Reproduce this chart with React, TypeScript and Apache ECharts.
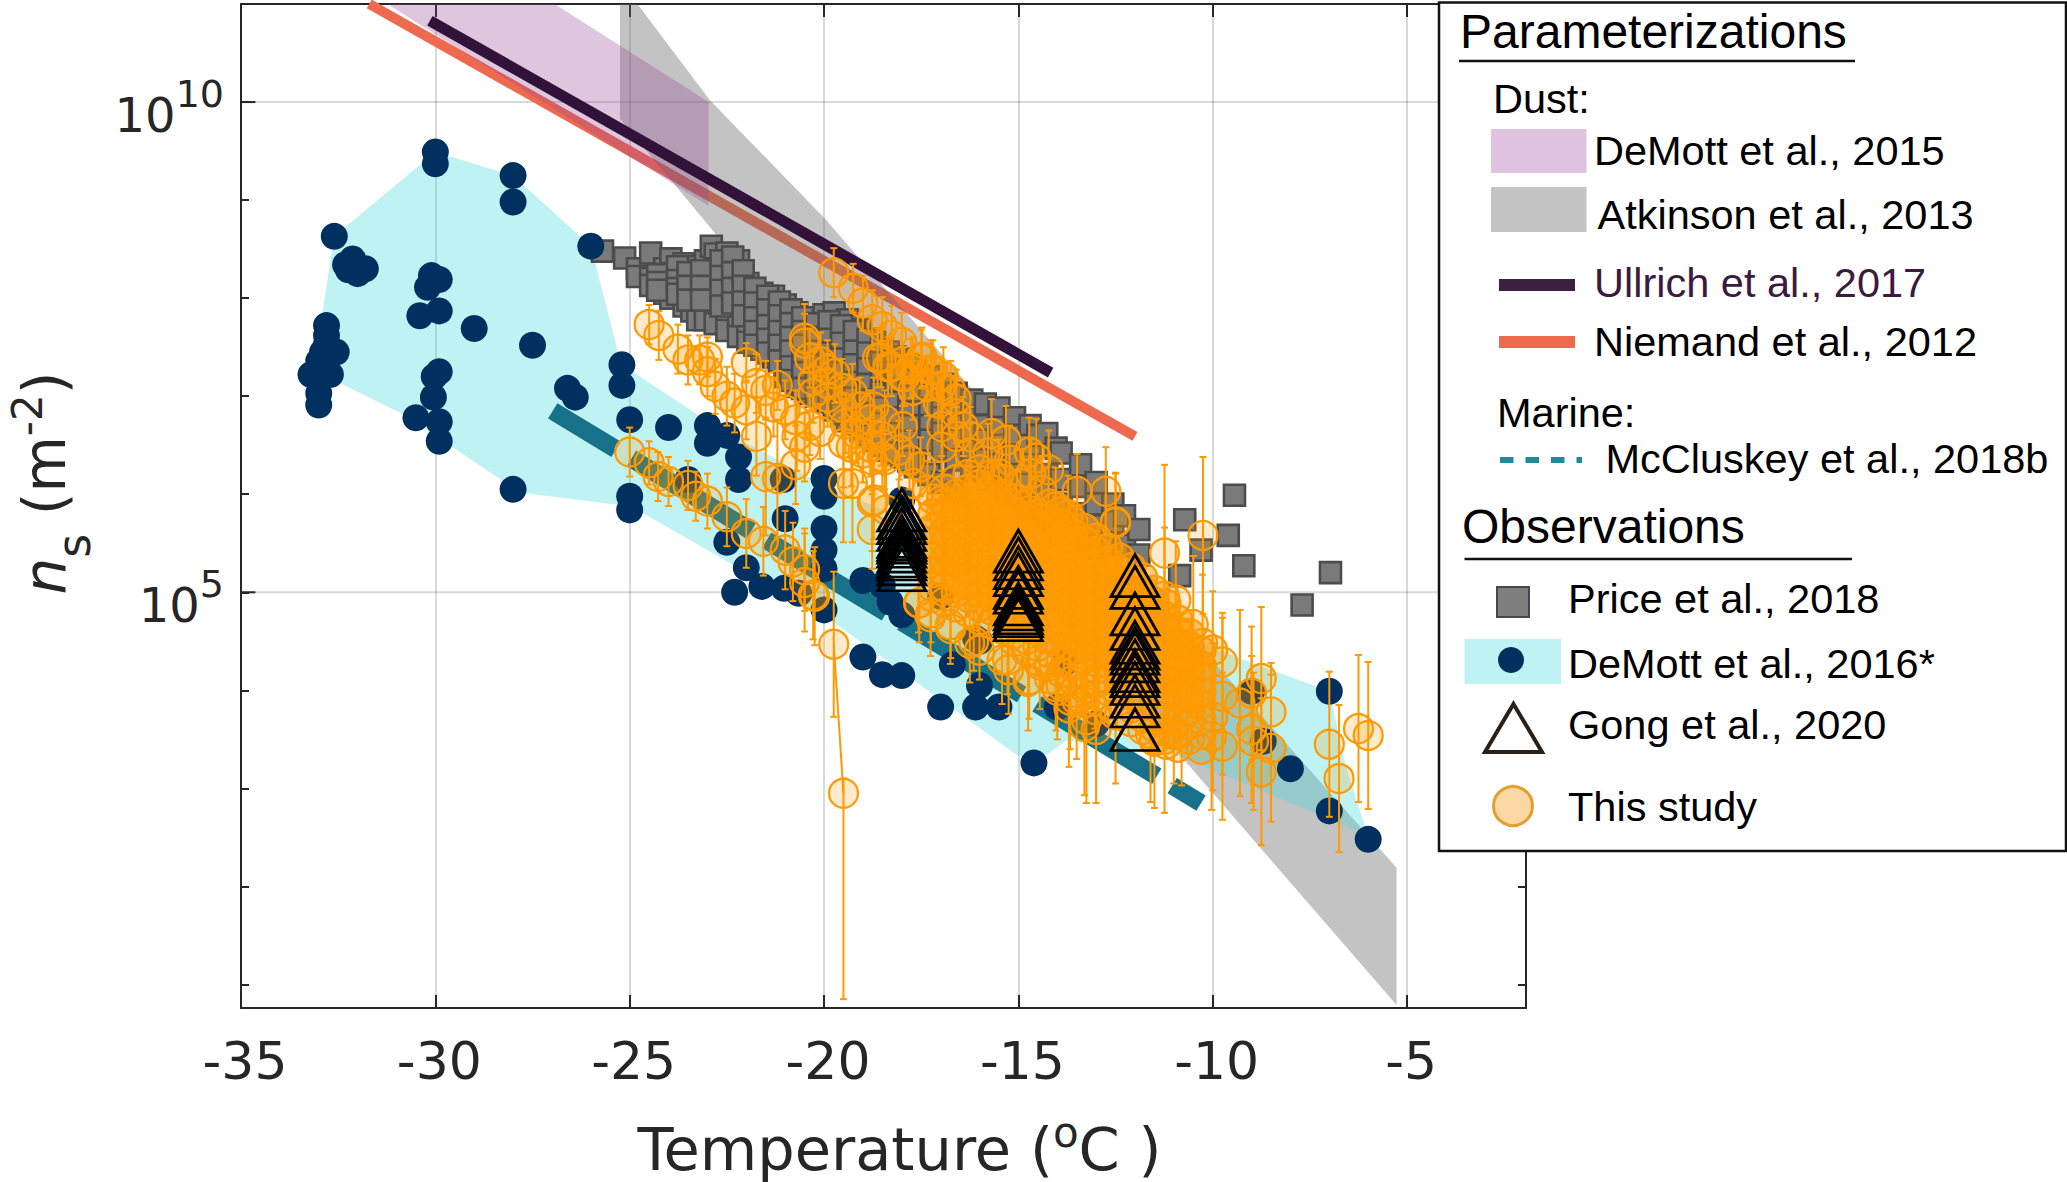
import React, { useEffect, useRef } from "react";
import * as echarts from "echarts";

const xTicksMin = -35;
const xTicksMax = -1.94;
const yDecadeMin = 0.76;
const yDecadeMax = 11;
const yLabelDecades = [5, 10];
const yTickDecades = [1, 2, 3, 4, 5, 6, 7, 8, 9, 10, 11];

const legendNames = {
  demott2015: "DeMott et al., 2015",
  atkinson: "Atkinson et al., 2013",
  ullrich: "Ullrich et al., 2017",
  niemand: "Niemand et al., 2012",
  mccluskey: "McCluskey et al., 2018b",
  price: "Price et al., 2018",
  demott2016: "DeMott et al., 2016*",
  gong: "Gong et al., 2020",
  study: "This study",
};

const niemandLine = [[-31.7, 11], [-12.0, 6.59]];
const ullrichLine = [[-30.14, 10.83], [-14.17, 7.24]];
const mccluskeyLine = [[-26.98, 6.85], [-10.3, 2.85]];

const demott2015Band = [[-31.24, 11], [-26.93, 11], [-22.97, 10], [-22.97, 8.94]];
const atkinsonBand = [
  [-25.25, 9.83], [-21.9, 8.23], [-10.8, 3.32], [-5.27, 0.79], [-5.27, 2.19],
  [-15.8, 6.89], [-19.95, 8.8], [-22.94, 10.02], [-24.8, 11], [-25.25, 11],
];
const demott2016Band = [
  [-30, 9.49], [-28, 9.25], [-26, 8.53], [-25.3, 7.45], [-25.2, 7.32], [-22.9, 6.72],
  [-20, 6.09], [-9.4, 4.34], [-7, 3.99], [-6.6, 3.26], [-6.07, 2.59], [-6.07, 2.53],
  [-10.8, 3.32], [-13.76, 3.49], [-14.28, 3.34], [-15, 3.33], [-19.7, 4.68], [-24.8, 5.84],
  [-25.25, 5.89], [-27.67, 6.01], [-28.2, 6.12], [-30.8, 6.81], [-32.7, 7.18], [-32.9, 7.87],
  [-32.6, 8.63], [-32.3, 8.73],
];

const demott2016Points = [
  [-30, 9.49], [-30, 9.37], [-28, 9.25], [-28, 8.98], [-32.6, 8.63], [-32.31, 8.34], [-32.13, 8.4],
  [-32, 8.25], [-31.8, 8.3], [-32.24, 8.29], [-30.1, 8.23], [-29.9, 8.19], [-30.2, 8.11], [-30.4, 7.82],
  [-29.9, 7.87], [-29, 7.69], [-27.5, 7.52], [-26, 8.53], [-26.6, 7.08], [-26.4, 6.99], [-25.2, 7.32],
  [-25.2, 7.11], [-25, 6.76], [-24, 6.68], [-23, 6.7], [-23, 6.52], [-22.5, 6.6], [-22.2, 6.38], [-22.2, 6.15],
  [-23.5, 6.15], [-25, 5.98], [-25, 5.84], [-28, 6.05], [-32.8, 7.72], [-32.8, 7.62], [-32.8, 7.53],
  [-32.9, 7.45], [-32.55, 7.45], [-33, 7.36], [-32.8, 7.29], [-33.2, 7.22], [-32.7, 7.22], [-33, 7.03], [-33, 6.91],
  [-29.9, 7.25], [-30.03, 7.2], [-30.05, 6.99], [-30.5, 6.78], [-29.9, 6.74], [-29.9, 6.54], [-21.05, 6.15],
  [-20, 6.16], [-20, 5.98], [-21, 5.75], [-20, 5.65], [-20, 5.43], [-20, 5.24], [-22.5, 5.51], [-22, 5.25],
  [-22.3, 5], [-21.6, 5.06], [-21.03, 5.04], [-20.65, 4.99], [-20, 4.82], [-19, 5.12], [-18.5, 5.07], [-18.3, 4.9],
  [-18, 4.77], [-18, 5.94], [-17, 4.96], [-19, 4.34], [-18.5, 4.16], [-18, 4.15], [-16.7, 4.26], [-16, 4.05],
  [-17, 3.83], [-16.1, 3.83], [-15.5, 3.83], [-14.6, 3.26], [-7, 3.99], [-7, 2.77], [-8, 3.2], [-6, 2.48],
  [-9, 3.99], [-8.7, 3.48], [-13.8, 4.28], [-14, 3.83], [-13, 3.66], [-16.1, 4.53], [-16, 4.5],
];

// Each row: temperature, then the log10(ns) of the Price squares in that column.
const priceRows = [
  [-25.7, 8.48], [-25.13, 8.41], [-24.8, 8.3, 8.22], [-24.46, 8.46, 8.2, 8.13], [-24.1, 8.3, 8.15, 8.05],
  [-23.94, 8.4, 8.25, 8], [-23.6, 8.35, 8.2, 8.05, 7.92], [-23.4, 8.32, 8.15, 8, 7.87], [-23.25, 7.78],
  [-23.05, 8.38, 8.2, 8.05, 7.89, 7.78], [-22.9, 8.53], [-22.8, 8.45, 8.3, 8.15, 7.98, 7.74],
  [-22.5, 8.46, 8.3, 8.15, 8, 7.85, 7.67], [-22.2, 8.38, 8.2, 8.05, 7.92, 7.78, 7.61],
  [-21.96, 8.15, 8, 7.85, 7.7, 7.55], [-21.6, 8.05, 7.92, 7.78, 7.62, 7.48], [-21.3, 8.02, 7.85, 7.7, 7.55, 7.4],
  [-21, 7.93, 7.8, 7.65, 7.5, 7.32, 7.2], [-20.7, 7.85, 7.7, 7.58, 7.42, 7.28, 7.1],
  [-20.4, 7.78, 7.62, 7.5, 7.35, 7.2, 7.03], [-20, 7.83, 7.7, 7.55, 7.42, 7.26, 7.1, 6.95],
  [-19.74, 7.85, 7.65, 7.5, 7.35, 7.2, 7.02, 6.86], [-19.4, 7.78, 7.6, 7.42, 7.28, 7.1, 6.95, 6.75],
  [-19.05, 7.68, 7.5, 7.35, 7.18, 7, 6.85, 6.65], [-18.7, 7.55, 7.4, 7.25, 7.1, 6.92, 6.78, 6.55],
  [-18.35, 7.45, 7.3, 7.15, 7, 6.85, 6.68, 6.45], [-18, 7.38, 7.2, 7.05, 6.9, 6.75, 6.58, 6.38],
  [-17.65, 7.28, 7.12, 6.95, 6.8, 6.65, 6.5, 6.28], [-17.3, 7.2, 7.02, 6.88, 6.7, 6.55, 6.2],
  [-16.95, 7.12, 6.95, 6.78, 6.62, 6.45, 6.12], [-16.6, 7.03, 6.85, 6.7, 6.55, 6.35, 6.02],
  [-16.2, 6.96, 6.78, 6.62, 6.45, 6.25], [-15.85, 6.92, 6.7, 6.55, 6.35, 6.15], [-15.5, 6.88, 6.68, 6.5, 6.3, 6.05],
  [-15.1, 6.78, 6.6, 6.4, 6.2, 5.98], [-14.7, 6.7, 6.5, 6.3, 6.1, 5.85], [-14.5, 6.6], [-14.27, 6.62, 6.2, 6, 5.75],
  [-14.03, 6.47], [-13.9, 6.42, 6.15, 5.9, 5.65], [-13.4, 6.3, 6.08, 5.8, 5.55], [-13, 6.12, 5.9, 5.68, 5.45],
  [-12.57, 5.9, 5.72, 5.5], [-12.27, 5.78, 5.48], [-11.9, 5.64, 5.38], [-10.72, 5.74], [-10.3, 5.43],
  [-10.85, 5.17], [-9.6, 5.58], [-9.44, 5.99], [-9.2, 5.27], [-6.97, 5.2], [-7.7, 4.87],
  // the tightly packed middle of the streak
  [-24.28, 8.24, 8.16, 8.08], [-23.77, 8.32, 8.18, 8.1, 8.04], [-23.5, 8.26, 8.12, 7.98], [-23.15, 8.28, 8.12, 7.98],
  [-22.65, 8.38, 8.22, 8.08, 7.92], [-22.35, 8.42, 8.26, 8.1, 7.95], [-22.08, 8.28, 8.12, 7.96, 7.82],
  [-21.78, 8.1, 7.95, 7.8, 7.66, 7.52], [-21.45, 8.02, 7.88, 7.72, 7.58, 7.44], [-21.15, 7.96, 7.82, 7.66, 7.52, 7.36],
  [-20.85, 7.88, 7.74, 7.6, 7.46, 7.3, 7.16], [-20.55, 7.8, 7.66, 7.52, 7.38, 7.24, 7.08],
  [-20.2, 7.74, 7.6, 7.46, 7.32, 7.16, 7], [-19.87, 7.76, 7.58, 7.44, 7.3, 7.14, 6.94],
  [-19.55, 7.72, 7.54, 7.38, 7.24, 7.06, 6.82], [-19.22, 7.66, 7.46, 7.32, 7.14, 6.98, 6.72],
  [-18.87, 7.58, 7.44, 7.28, 7.12, 6.96, 6.82, 6.6], [-18.52, 7.48, 7.34, 7.18, 7.04, 6.88, 6.72, 6.5],
  [-18.17, 7.4, 7.24, 7.08, 6.94, 6.78, 6.62, 6.42], [-17.82, 7.32, 7.16, 7, 6.84, 6.7, 6.54, 6.34],
];

// Gong triangles: the three temperatures and the log10(ns) stack at each.
const gongColumns = [
  [-18, 5.84, 5.76, 5.71, 5.64, 5.57, 5.54, 5.51, 5.47, 5.42, 5.37, 5.34, 5.29, 5.23],
  [-15, 5.42, 5.34, 5.25, 5.18, 5.05, 5, 4.88, 4.83, 4.79, 4.76, 4.72],
  [-12, 5.17, 5.05, 4.78, 4.63, 4.49, 4.43, 4.38, 4.3, 4.2, 4.15, 4.07, 3.94, 3.84, 3.6],
];

// This study, single readable points: temperature, log10(ns), error half-width in decades.
const studyPoints = [
  [-25, 6.43, 0.25], [-24.5, 6.32, 0.22], [-24.27, 6.18, 0.25], [-24, 6.13, 0.25], [-23.5, 6.09, 0.25],
  [-23.3, 5.98, 0.25], [-23, 5.93, 0.28], [-22.5, 5.77, 0.3], [-22, 5.6, 0.35], [-21.56, 5.52, 0.35],
  [-21, 5.43, 0.4], [-20.8, 5.31, 0.4], [-20.5, 5.23, 0.42], [-20.28, 4.97, 0.45],
  [-24.5, 7.73, 0.2], [-24.25, 7.62, 0.25], [-23.76, 7.48, 0.25], [-23.5, 7.37, 0.25], [-23.2, 7.37, 0.25],
  [-23, 7.4, 0.2], [-23, 7.25, 0.25], [-22.8, 7.1, 0.28], [-22.5, 7, 0.3], [-22.3, 6.93, 0.3], [-22, 6.86, 0.3],
  [-22, 7.34, 0.2], [-21.74, 7.13, 0.3], [-21.5, 7.06, 0.3], [-21.2, 7.11, 0.25], [-21.3, 6.89, 0.3],
  [-21.74, 6.59, 0.4], [-21, 6.86, 0.3], [-20.73, 6.76, 0.3], [-20.37, 6.7, 0.3], [-20.1, 6.64, 0.28],
  [-20.7, 6.59, 0.35], [-20.5, 6.48, 0.35], [-20.73, 6.3, 0.4], [-21.5, 6.18, 0.6], [-21.2, 6.16, 0.6],
  [-19.5, 6.52, 0.45], [-19.3, 6.48, 0.4], [-19.5, 6.11, 0.6], [-19.27, 6.11, 0.6], [-19, 6.42, 0.3],
  [-18.76, 6.35, 0.35], [-18.5, 6.38, 0.3], [-18.76, 5.92, 0.5], [-18.4, 5.84, 0.45], [-18.76, 5.64, 0.4],
  [-18.72, 5.94, 0.4], [-19.75, 8.26, 0.25], [-19.25, 8.1, 0.25], [-19, 7.95, 0.28], [-18.76, 7.78, 0.3],
  [-18.5, 7.71, 0.3], [-18.26, 7.62, 0.3], [-18, 7.55, 0.3], [-18.53, 7.39, 0.3], [-18.26, 7.3, 0.3],
  [-17.93, 7.2, 0.3], [-17.5, 7.38, 0.3], [-17.25, 7.27, 0.3], [-17.77, 7.28, 0.3], [-17, 7.1, 0.3], [-16.6, 6.97, 0.3],
  [-20.5, 7.59, 0.35], [-20.5, 7.54, 0.3], [-20.37, 7.39, 0.3], [-20.09, 7.35, 0.3], [-19.91, 7.27, 0.3],
  [-19.72, 7.23, 0.3], [-20.28, 7.16, 0.3], [-19.91, 7.13, 0.3], [-19.54, 7.08, 0.3], [-19.27, 7.03, 0.3],
  [-20.28, 7.03, 0.3], [-19.91, 6.99, 0.3], [-19.54, 6.89, 0.3], [-19.08, 6.89, 0.3], [-18.72, 6.89, 0.3],
  [-18.81, 6.76, 0.3], [-18.44, 6.76, 0.3], [-17.98, 6.69, 0.3], [-19.45, 6.72, 0.3], [-19.17, 6.62, 0.3],
  [-18.53, 6.59, 0.3], [-18.07, 6.45, 0.3], [-17.8, 6.35, 0.3], [-17.52, 6.28, 0.3], [-18.81, 6.48, 0.3],
  [-18.44, 6.35, 0.3], [-17.71, 6.11, 0.3], [-17.34, 6.04, 0.3], [-16.97, 5.94, 0.3],
  [-18.62, 7.39, 0.3], [-18.35, 7.3, 0.3], [-17.98, 7.2, 0.3], [-17.71, 7.3, 0.3], [-17.48, 7.4, 0.3],
  [-17.2, 7.27, 0.3], [-16.93, 7.2, 0.3], [-16.74, 7.06, 0.3], [-17.34, 7.1, 0.3], [-17.71, 7.06, 0.3],
  [-17.06, 6.93, 0.3], [-16.6, 6.82, 0.3], [-16.97, 6.69, 0.3], [-16.42, 6.69, 0.3], [-16.24, 6.59, 0.3],
  [-15.69, 6.62, 0.35], [-15.32, 6.55, 0.35], [-14.72, 6.43, 0.35], [-14.54, 6.37, 0.4], [-14.22, 6.25, 0.4],
  [-15.23, 6.35, 0.35], [-15.5, 6.21, 0.35], [-14.95, 6.11, 0.35], [-14.68, 6.21, 0.35], [-14.4, 6.04, 0.35],
  [-13.72, 5.79, 0.4], [-13.49, 6.03, 0.38], [-12.75, 6.03, 0.45], [-12.5, 5.71, 0.5], [-14.04, 5.87, 0.4],
  [-15.78, 6.42, 0.3], [-16.24, 6.42, 0.3], [-16.6, 6.59, 0.3], [-16.97, 6.48, 0.3],
  [-17.57, 4.89, 0.3], [-17.25, 4.79, 0.3], [-16.74, 4.63, 0.3], [-16.15, 4.5, 0.3], [-16, 4.41, 0.3],
  [-15.28, 4.31, 0.35], [-14.72, 4.11, 0.4], [-14.04, 4.04, 0.45], [-13.67, 3.9, 0.5], [-13.03, 4.11, 0.5],
  [-17.55, 4.89, 0.4], [-17.26, 4.75, 0.4], [-16.75, 4.67, 0.4], [-16.25, 4.48, 0.4], [-15.42, 4.31, 0.45],
  [-15.25, 4.21, 0.45], [-14.75, 4.09, 0.5], [-14.45, 4.26, 0.45], [-14, 4, 0.5], [-13.7, 3.82, 0.6],
  [-13.3, 3.63, 0.7], [-13, 3.6, 0.75], [-13.5, 3.9, 0.6], [-13.25, 3.7, 0.85], [-12.5, 3.75, 0.7],
  [-11.6, 3.56, 0.7], [-11.5, 3.5, 0.7], [-11.24, 3.5, 0.75], [-11, 3.55, 0.5], [-10.8, 3.73, 0.7],
  [-12.5, 5.72, 0.5], [-11.24, 5.4, 0.9], [-10.25, 5.58, 0.8], [-11.24, 4.96, 0.7], [-10.95, 4.92, 0.6],
  [-10.5, 4.67, 0.7], [-10.26, 4.48, 0.7], [-10, 4.41, 0.6], [-9.75, 4.29, 0.5], [-9.3, 3.87, 0.95],
  [-9.75, 3.94, 0.8], [-8.75, 4.12, 0.73], [-8.5, 3.78, 0.5], [-9, 3.97, 0.68], [-10, 3.73, 0.75],
  [-10.03, 3.53, 0.75], [-9.75, 3.43, 0.75], [-9, 3.6, 0.75], [-8.95, 3.48, 0.7], [-8.5, 3.41, 0.75],
  [-8.75, 3.17, 0.75], [-7, 3.45, 0.74], [-6.75, 3.1, 0.75], [-6.25, 3.61, 0.75], [-6, 3.54, 0.75],
  [-20.24, 4.96, 0.5], [-20.5, 5.1, 0.5], [-19.75, 4.47, 0.74],
];

// The one low point with its long lower whisker: temperature, log10(ns), low, high.
const studyLowPoint = [-19.5, 2.95, 0.85, 3.1];
const studyLowLink = [[-19.75, 4.47], [-19.5, 2.95]];

// This study, overlapping rings round the core: temperature then log10(ns).
const studyRimRows = [
  [-17.2, 5.95, 5.05, 4.95], [-16.9, 6.05, 5.05, 4.9], [-16.6, 6.15, 4.85], [-16.3, 6.2, 4.8],
  [-16, 6.25, 4.72], [-15.7, 6.2, 4.68], [-15.4, 6.15, 4.62], [-15.1, 4.58, 4.5], [-14.8, 4.52, 4.4],
  [-14.5, 4.45, 4.3], [-14.2, 4.38, 4.25, 4.12], [-13.9, 4.3, 4.18, 4.05], [-13.6, 4.25, 4.1, 3.98],
  [-13.3, 4.18, 4.02, 3.88], [-13, 4.22, 4.08, 3.95, 3.8], [-12.7, 4.12, 4, 3.85], [-12.4, 4.05, 3.9, 3.75],
  [-12.1, 3.95, 3.82, 3.68], [-11.8, 3.98, 3.85, 3.72, 3.6], [-11.5, 3.88, 3.75, 3.62, 3.48],
  [-11.2, 3.85, 3.72, 3.58, 3.45], [-10.9, 3.82, 3.68, 3.55, 3.42], [-10.6, 3.8, 3.65, 3.5], [-10.3, 3.7, 3.55, 3.4],
];

// This study, the saturated core: temperature then log10(ns) of overlapping points.
const studyCoreRows = [
  [-17.2, 5.8, 5.65, 5.5, 5.35, 5.2],
  [-16.9, 5.9, 5.78, 5.62, 5.5, 5.33, 5.2],
  [-16.6, 6, 5.85, 5.72, 5.58, 5.42, 5.3, 5.15, 5],
  [-16.3, 6.05, 5.92, 5.78, 5.62, 5.5, 5.35, 5.22, 5.08, 4.95],
  [-16, 6.1, 5.95, 5.82, 5.68, 5.55, 5.4, 5.28, 5.12, 5, 4.85],
  [-15.7, 6.05, 5.9, 5.78, 5.62, 5.5, 5.35, 5.2, 5.08, 4.95, 4.82],
  [-15.4, 6, 5.88, 5.72, 5.6, 5.45, 5.32, 5.18, 5.05, 4.9, 4.78],
  [-15.1, 5.95, 5.82, 5.68, 5.55, 5.42, 5.28, 5.15, 5, 4.88, 4.72],
  [-14.8, 5.9, 5.75, 5.6, 5.48, 5.35, 5.2, 5.08, 4.95, 4.8, 4.68],
  [-14.5, 5.8, 5.68, 5.55, 5.42, 5.28, 5.15, 5, 4.88, 4.75, 4.6],
  [-14.2, 5.9, 5.75, 5.6, 5.48, 5.35, 5.2, 5.08, 4.95, 4.8, 4.68, 4.52],
  [-13.9, 5.82, 5.7, 5.55, 5.42, 5.28, 5.15, 5, 4.88, 4.72, 4.6, 4.45],
  [-13.6, 5.72, 5.6, 5.48, 5.35, 5.2, 5.08, 4.92, 4.8, 4.68, 4.52, 4.4],
  [-13.3, 5.65, 5.52, 5.4, 5.25, 5.12, 5, 4.85, 4.72, 4.6, 4.45, 4.32],
  [-13, 5.55, 5.42, 5.3, 5.15, 5.02, 4.9, 4.75, 4.62, 4.5, 4.35],
  [-12.7, 5.45, 5.32, 5.2, 5.05, 4.92, 4.8, 4.68, 4.52, 4.4, 4.28],
  [-12.4, 5.35, 5.22, 5.1, 4.98, 4.82, 4.7, 4.58, 4.45, 4.3, 4.18],
  [-12.1, 5.25, 5.12, 5, 4.88, 4.75, 4.6, 4.48, 4.35, 4.22, 4.08],
  [-11.8, 5.15, 5.02, 4.9, 4.75, 4.62, 4.5, 4.38, 4.25, 4.12],
  [-11.5, 5.02, 4.9, 4.78, 4.65, 4.52, 4.4, 4.28, 4.15, 4],
  [-11.2, 4.88, 4.75, 4.62, 4.5, 4.38, 4.25, 4.1, 3.98],
  [-10.9, 4.72, 4.6, 4.48, 4.35, 4.22, 4.08, 3.95],
  [-10.6, 4.58, 4.45, 4.32, 4.2, 4.05, 3.92],
  [-10.3, 4.4, 4.25, 4.12, 3.98, 3.85],
];

const pt = (p: number[]) => [p[0], Math.pow(10, p[1])];
const pts = (a: number[][]) => a.map(pt);
const fromRows = (rows: number[][]) =>
  rows.flatMap((r) => r.slice(1).map((e) => [r[0], Math.pow(10, e)]));

const band = (data: number[][], fill: string, z: number) => ({
  type: "custom",
  z,
  silent: true,
  clip: true,
  encode: { x: 0, y: 1 },
  data: pts(data),
  renderItem: (params: any, api: any) => {
    if (params.dataIndex !== 0) return null;
    return {
      type: "polygon",
      shape: { points: pts(data).map((d) => api.coord(d)) },
      style: { fill },
    };
  },
});

const errorBars = (rows: number[][], z: number) => ({
  type: "custom",
  z,
  silent: true,
  clip: true,
  encode: { x: 0, y: 1 },
  data: rows,
  renderItem: (_: any, api: any) => {
    const t = api.value(0);
    const a = api.coord([t, api.value(2)]);
    const b = api.coord([t, api.value(3)]);
    const stroke = { stroke: "#ff9900", lineWidth: 2 };
    return {
      type: "group",
      children: [
        { type: "line", shape: { x1: a[0], y1: a[1], x2: b[0], y2: b[1] }, style: stroke },
        { type: "line", shape: { x1: a[0] - 3.5, y1: a[1], x2: a[0] + 3.5, y2: a[1] }, style: stroke },
        { type: "line", shape: { x1: b[0] - 3.5, y1: b[1], x2: b[0] + 3.5, y2: b[1] }, style: stroke },
      ],
    };
  },
});

const legendFont = "'Liberation Sans', Arial, sans-serif";
const axisFont = "'DejaVu Sans', sans-serif";
const L = 200;
const txt = (text: string, x: number, y: number, size = 41.5, fill = "#000") => ({
  type: "text",
  z: L + 1,
  style: { text, x, y: y - 0.85 * size + 0.5, fontSize: size, fontFamily: legendFont, fill, verticalAlign: "top" },
});
const rect = (x: number, y: number, width: number, height: number, fill: string, stroke?: string, lineWidth = 0) => ({
  type: "rect",
  z: L + 1,
  shape: { x, y, width, height },
  style: { fill, stroke, lineWidth },
});
const seg = (x1: number, y1: number, x2: number, y2: number, stroke: string, lineWidth: number, lineDash?: number[]) => ({
  type: "line",
  z: L + 1,
  shape: { x1, y1, x2, y2 },
  style: { stroke, lineWidth, lineDash },
});

const legendGraphics = [
  { ...rect(1439, 2.5, 627, 848.5, "#fff", "#111", 2.5), z: L },
  txt("Parameterizations", 1460, 48, 48),
  seg(1459, 61, 1855, 61, "#111", 2.5),
  txt("Dust:", 1493, 112),
  rect(1491, 129, 95.5, 44, "#dfc3e0"),
  txt(legendNames.demott2015, 1594, 164),
  rect(1491, 187, 95.5, 45, "#c4c4c4"),
  txt(legendNames.atkinson, 1597.5, 228),
  seg(1499, 285, 1575, 285, "#3c2040", 12),
  txt(legendNames.ullrich, 1594, 296, 41.5, "#3a1a3f"),
  seg(1499, 342, 1575, 342, "#ee6a4f", 12),
  txt(legendNames.niemand, 1594, 355),
  txt("Marine:", 1497, 426),
  seg(1500, 460, 1582, 460, "#1f8a9e", 6, [13.5, 12]),
  txt(legendNames.mccluskey, 1605.5, 472),
  txt("Observations", 1462, 543, 48),
  seg(1464.5, 559, 1852, 559, "#111", 2.5),
  rect(1497, 587, 32, 30, "#7f7f7f", "#3f4a50", 2),
  txt(legendNames.price, 1568, 612),
  rect(1464.5, 639, 96.5, 45, "#bff3f3"),
  { type: "circle", z: L + 2, shape: { cx: 1511, cy: 660, r: 13 }, style: { fill: "#00305f" } },
  txt(legendNames.demott2016, 1568, 677),
  {
    type: "polygon",
    z: L + 1,
    shape: { points: [[1513.5, 704], [1542, 752], [1485, 752]] },
    style: { fill: "#fff", stroke: "#2a2018", lineWidth: 4 },
  },
  txt(legendNames.gong, 1568, 738),
  { type: "circle", z: L + 1, shape: { cx: 1513, cy: 806, r: 19.5 }, style: { fill: "#fdd8a5", stroke: "#e3a030", lineWidth: 3 } },
  txt(legendNames.study, 1568, 820),
];

const axisColor = "#262626";
const xTickLen = 13;
const yMinorLen = 8;
const yTickValues = yTickDecades.map((d) => Math.pow(10, d));
const yLabelValues = yLabelDecades.map((d) => Math.pow(10, d));

const option: any = {
  animation: false,
  backgroundColor: "#fff",
  grid: { left: 241, right: 541, top: 4, bottom: 174, containLabel: false, outerBoundsMode: "none" },
  xAxis: [
    {
      type: "value",
      min: xTicksMin,
      max: xTicksMax,
      interval: 5,
      position: "bottom",
      axisLine: { show: true, lineStyle: { color: axisColor, width: 2 } },
      axisTick: { show: true, inside: true, length: xTickLen, lineStyle: { color: axisColor, width: 2 } },
      axisLabel: {
        show: true,
        margin: 27,
        fontSize: 52,
        fontFamily: axisFont,
        color: "#262626",
        padding: [0, 0, 0, 8],
        showMaxLabel: false,
      },
      splitLine: { show: true, lineStyle: { color: "rgba(0,0,0,0.15)", width: 2 } },
      name: "Temperature ({sup|o}C )",
      nameLocation: "middle",
      nameGap: 103,
      nameTextStyle: {
        fontSize: 59,
        fontFamily: axisFont,
        color: "#262626",
        padding: [0, 0, 0, 32],
        rich: { sup: { fontSize: 42, fontFamily: axisFont, color: "#262626", padding: [0, 0, 34, 0] } },
      },
    },
    {
      type: "value",
      min: xTicksMin,
      max: xTicksMax,
      interval: 5,
      position: "top",
      axisLine: { show: true, lineStyle: { color: axisColor, width: 2 } },
      axisTick: { show: true, inside: true, length: xTickLen, lineStyle: { color: axisColor, width: 2 } },
      axisLabel: { show: false },
      splitLine: { show: false },
    },
  ],
  yAxis: [
    {
      type: "log",
      logBase: 10,
      min: Math.pow(10, yDecadeMin),
      max: Math.pow(10, yDecadeMax),
      position: "left",
      axisLine: { show: true, lineStyle: { color: axisColor, width: 2 } },
      axisTick: { show: true, inside: true, length: yMinorLen, customValues: yTickValues, lineStyle: { color: axisColor, width: 2 } },
      axisLabel: {
        show: true,
        margin: 17,
        fontSize: 48,
        fontFamily: axisFont,
        color: "#262626",
        padding: [25, 0, 0, 0],
        customValues: yLabelValues,
        formatter: (v: number) => `10{sup|${Math.round(Math.log10(v))}}`,
        rich: { sup: { fontSize: 38, fontFamily: axisFont, color: "#262626", padding: [0, 0, 41, 0] } },
      },
      splitLine: { show: false },
      name: "{i|n}{sub|s}{t| (m}{sup|-2}{t|)}",
      nameLocation: "middle",
      nameGap: 144,
      nameRotate: 90,
      nameTextStyle: {
        padding: [0, 0, 0, 46],
        rich: {
          i: { fontSize: 58, fontStyle: "italic", fontFamily: axisFont, color: "#262626" },
          sub: { fontSize: 46, fontFamily: axisFont, color: "#262626", padding: [58, 0, 0, 0] },
          t: { fontSize: 58, fontFamily: axisFont, color: "#262626" },
          sup: { fontSize: 42, fontFamily: axisFont, color: "#262626", padding: [0, 0, 36, 0] },
        },
      },
    },
    {
      type: "log",
      logBase: 10,
      min: Math.pow(10, yDecadeMin),
      max: Math.pow(10, yDecadeMax),
      position: "right",
      axisLine: { show: true, lineStyle: { color: axisColor, width: 2 } },
      axisTick: { show: true, inside: true, length: yMinorLen, customValues: yTickValues, lineStyle: { color: axisColor, width: 2 } },
      axisLabel: { show: false },
      splitLine: { show: false },
    },
  ],
  graphic: legendGraphics,
  series: [
    ...yLabelDecades.map((d) => ({
      type: "line",
      z: 0,
      silent: true,
      symbol: "none",
      lineStyle: { color: "rgba(0,0,0,0.15)", width: 2 },
      data: [[xTicksMin, Math.pow(10, d)], [xTicksMax, Math.pow(10, d)]],
    })),
    ...yLabelDecades.map((d) => ({
      type: "line",
      z: 20,
      silent: true,
      symbol: "none",
      lineStyle: { color: axisColor, width: 2 },
      data: [[xTicksMin, Math.pow(10, d)], [xTicksMin + 0.37, Math.pow(10, d)]],
    })),
    {
      name: legendNames.niemand,
      type: "line",
      z: 1,
      silent: true,
      symbol: "none",
      lineStyle: { color: "#ee6a4f", width: 10 },
      data: pts(niemandLine),
    },
    { name: legendNames.atkinson, ...band(atkinsonBand, "rgba(100,100,100,0.39)", 2) },
    { name: legendNames.demott2015, ...band(demott2015Band, "rgba(150,65,150,0.3)", 3) },
    {
      name: legendNames.ullrich,
      type: "line",
      z: 3,
      silent: true,
      symbol: "none",
      lineStyle: { color: "#33123a", width: 11, cap: "butt" },
      data: pts(ullrichLine),
    },
    { name: legendNames.demott2016, ...band(demott2016Band, "rgba(60,215,215,0.33)", 4) },
    {
      name: legendNames.mccluskey,
      type: "line",
      z: 5,
      silent: true,
      symbol: "none",
      lineStyle: { color: "#177289", width: 18, type: [140, 18], dashOffset: 66, cap: "butt" },
      data: pts(mccluskeyLine),
    },
    {
      name: legendNames.price,
      type: "scatter",
      z: 6,
      silent: true,
      symbol: "rect",
      symbolSize: 21,
      itemStyle: { color: "#7a7a7a", borderColor: "#4c4c4c", borderWidth: 2.6, opacity: 1 },
      data: fromRows(priceRows),
    },
    {
      name: legendNames.demott2016,
      type: "scatter",
      z: 7,
      silent: true,
      symbol: "circle",
      symbolSize: 27,
      itemStyle: { color: "#00305f", opacity: 1 },
      data: pts(demott2016Points),
    },
    {
      name: legendNames.study,
      ...errorBars(
        [
          ...studyPoints.map((p) => [p[0], Math.pow(10, p[1]), Math.pow(10, p[1] - p[2]), Math.pow(10, p[1] + p[2])]),
          [studyLowPoint[0], Math.pow(10, studyLowPoint[1]), Math.pow(10, studyLowPoint[2]), Math.pow(10, studyLowPoint[3])],
        ],
        8
      ),
    },
    {
      type: "line",
      z: 8,
      silent: true,
      symbol: "none",
      lineStyle: { color: "#ff9900", width: 2 },
      data: pts(studyLowLink),
    },
    {
      name: legendNames.study,
      type: "scatter",
      z: 9,
      silent: true,
      symbol: "circle",
      symbolSize: 29,
      itemStyle: { color: "rgba(255,153,0,0.2)", borderColor: "#ff9900", borderWidth: 2.2, opacity: 1 },
      data: [...pts([...studyPoints, studyLowPoint.slice(0, 2)]), ...fromRows(studyRimRows)],
    },
    {
      name: legendNames.study,
      type: "scatter",
      z: 9,
      silent: true,
      symbol: "circle",
      symbolSize: 29,
      itemStyle: { color: "rgba(255,153,0,0.5)", borderColor: "#ff9900", borderWidth: 2.2, opacity: 1 },
      data: fromRows(studyCoreRows),
    },
    {
      name: legendNames.gong,
      type: "scatter",
      z: 10,
      silent: true,
      symbol: "triangle",
      symbolSize: [48, 42],
      itemStyle: { color: "rgba(0,0,0,0)", borderColor: "#000", borderWidth: 2.8, opacity: 1 },
      data: fromRows(gongColumns),
    },
  ],
};

export default function App() {
  const ref = useRef<HTMLDivElement>(null);
  useEffect(() => {
    const chart = echarts.init(ref.current!, undefined, { renderer: "svg" });
    chart.setOption(option);
    return () => chart.dispose();
  }, []);
  return <div ref={ref} style={{ position: "fixed", left: 0, top: 0, width: 2067, height: 1182 }} />;
}
